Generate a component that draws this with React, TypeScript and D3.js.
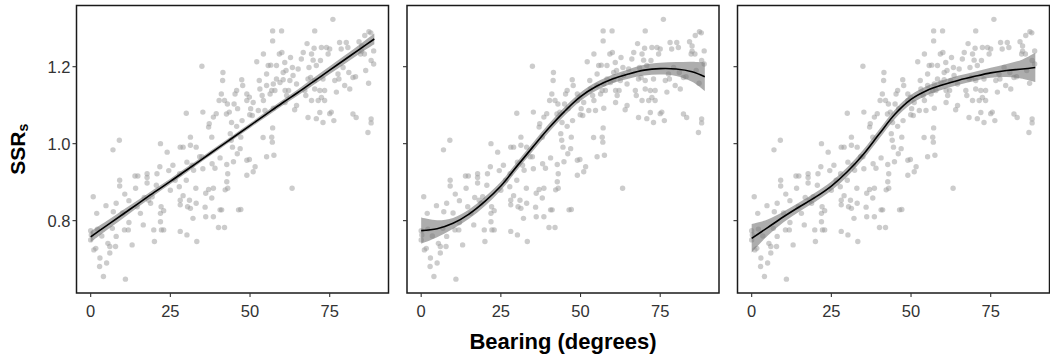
import React from 'react';
import * as d3 from 'd3';

// Observations (same data in every panel): bearing (degrees) and SSRs
const bearing = [
  0.0, 0.2, 0.0, 0.8, 1.0, 1.9, 2.1, 1.6, 2.9, 2.8, 4.0, 5.0, 4.8, 5.4, 6.0, 6.0, 7.0, 7.1, 6.8, 7.8,
  8.0, 8.0, 9.0, 9.1, 9.1, 10.9, 10.7, 10.6, 12.0, 12.0, 11.8, 13.0, 13.9, 14.8, 14.1, 14.6, 15.6, 16.5, 17.7, 17.7,
  17.7, 18.2, 18.8, 19.3, 19.8, 20.0, 20.8, 20.6, 21.9, 21.7, 22.1, 21.9, 21.9, 22.2, 22.9, 22.9, 24.0, 25.0, 25.8, 28.1,
  27.9, 27.8, 28.1, 28.1, 28.1, 29.0, 29.0, 30.0, 30.0, 30.2, 30.4, 31.0, 31.3, 31.3, 31.3, 31.8, 32.3, 32.1, 33.1, 33.0,
  33.3, 34.2, 34.9, 34.9, 35.2, 35.2, 36.1, 36.1, 37.0, 37.2, 38.0, 38.1, 38.5, 38.5, 39.4, 40.1, 40.3, 40.6, 41.1, 41.5,
  41.4, 42.0, 42.0, 42.7, 43.0, 43.0, 43.5, 42.9, 43.8, 44.1, 44.5, 44.8, 45.3, 45.8, 46.1, 46.4, 47.1, 46.0, 46.9, 47.1,
  47.4, 47.7, 49.0, 49.8, 49.0, 49.0, 49.0, 49.8, 50.2, 50.7, 51.0, 51.6, 52.1, 52.6, 52.9, 53.1, 54.2, 54.7, 55.2, 55.7,
  56.8, 57.0, 57.1, 57.3, 57.5, 57.1, 57.1, 57.8, 58.3, 59.2, 59.4, 59.9, 60.0, 60.4, 60.4, 60.9, 61.3, 61.5, 62.1, 62.5,
  62.7, 63.3, 63.5, 64.0, 63.2, 64.6, 65.1, 66.1, 66.7, 67.5, 67.2, 67.9, 68.2, 68.5, 69.3, 69.3, 69.8, 70.3, 70.8, 71.4,
  70.3, 72.1, 72.4, 72.9, 73.4, 73.4, 74.0, 74.5, 75.0, 75.0, 75.5, 76.0, 76.3, 76.6, 77.1, 77.6, 77.9, 78.1, 78.6, 79.2,
  79.7, 80.2, 80.7, 81.0, 82.3, 83.1, 84.2, 86.0, 87.3, 88.0, 88.8, 86.3, 87.2, 81.3, 82.3, 83.3, 88.0, 88.0, 87.0, 85.0,
  85.0, 84.7, 85.9, 88.8, 70.1, 54.2, 56.5, 70.8, 55.2, 56.3, 58.3, 69.0, 70.3, 71.9, 72.4, 51.0, 56.8, 61.0, 57.3, 61.0,
  64.6, 71.9, 68.2, 72.9, 41.0, 45.0, 42.6, 44.2, 49.9, 54.1, 55.2, 30.2, 33.1, 39.0, 40.6, 42.7, 37.0, 38.5, 42.2, 38.0,
  35.9, 87.9, 45.8, 53.8, 47.5, 26.5, 24.5, 16.8, 3.5, 10.0
];
const ssr = [
  0.774, 0.763, 0.750, 0.862, 0.724, 0.819, 0.778, 0.728, 0.703, 0.681, 0.655, 0.690, 0.839, 0.741, 0.733, 0.716, 0.984, 0.823, 0.780, 0.733,
  0.759, 0.845, 1.009, 0.905, 0.890, 0.648, 0.869, 0.776, 0.852, 0.795, 0.776, 0.737, 0.916, 0.916, 0.884, 0.836, 0.819, 0.789, 0.922, 0.912,
  0.898, 0.853, 0.845, 0.862, 0.776, 0.746, 0.922, 0.892, 1.000, 0.940, 0.836, 0.819, 0.797, 0.776, 0.826, 0.776, 0.978, 0.879, 0.944, 0.991,
  0.922, 0.888, 0.853, 0.841, 0.772, 0.991, 0.865, 1.079, 0.905, 0.763, 0.836, 0.853, 0.996, 1.017, 0.832, 0.944, 0.931, 0.806, 0.991, 0.884,
  0.746, 0.966, 0.966, 1.201, 1.082, 0.935, 0.810, 0.871, 1.043, 1.052, 1.017, 0.948, 0.810, 1.069, 1.078, 0.782, 1.112, 0.828, 0.828, 1.185,
  1.164, 0.782, 1.112, 0.901, 0.884, 0.922, 1.082, 1.103, 1.026, 1.009, 0.991, 0.953, 1.129, 1.138, 1.091, 0.828, 0.829, 0.974, 0.987, 1.017,
  1.166, 1.151, 0.957, 0.959, 0.918, 1.129, 1.112, 1.121, 1.091, 1.073, 0.927, 0.940, 1.213, 1.086, 1.164, 1.142, 1.112, 1.086, 1.181, 1.203,
  1.017, 1.004, 1.041, 1.155, 0.970, 1.293, 1.267, 1.138, 1.203, 1.233, 1.159, 1.293, 1.237, 1.166, 1.185, 1.211, 1.190, 1.125, 1.138, 1.164,
  1.224, 1.198, 1.177, 1.088, 0.884, 1.155, 1.194, 1.220, 1.237, 1.125, 1.138, 1.260, 1.168, 1.198, 1.112, 1.233, 1.217, 1.164, 1.065, 1.112,
  1.293, 1.216, 1.250, 1.168, 1.112, 1.138, 1.250, 1.233, 1.246, 1.078, 1.082, 1.323, 1.060, 1.164, 1.134, 1.181, 1.168, 1.263, 1.246, 1.198,
  1.151, 1.263, 1.250, 1.185, 1.172, 1.174, 1.265, 1.281, 1.291, 1.216, 1.207, 1.190, 1.157, 1.142, 1.077, 1.068, 1.064, 1.054, 1.029, 1.240,
  1.254, 1.233, 1.233, 1.241, 1.248, 1.233, 1.204, 1.203, 1.151, 1.129, 1.168, 1.172, 1.142, 1.138, 1.120, 1.107, 1.138, 1.138, 1.092, 1.107,
  1.099, 1.081, 1.068, 1.055, 1.129, 1.103, 1.077, 1.055, 1.075, 1.016, 0.966, 0.952, 0.845, 0.936, 0.963, 0.946, 0.881, 0.884, 0.880, 0.859,
  0.835, 1.288, 1.045, 1.125, 1.060, 0.905, 0.930, 0.860, 0.760, 0.820
];

const fitX = [0, 5, 10, 15, 20, 25, 30, 35, 40, 45, 50, 55, 60, 65, 70, 75, 80, 85, 89];
const linearFit = [0.758, 0.787, 0.816, 0.845, 0.874, 0.902, 0.931, 0.960, 0.989, 1.018, 1.047, 1.076, 1.105, 1.133, 1.162, 1.191, 1.220, 1.249, 1.272];
const linearSe = [0.014, 0.012, 0.011, 0.009, 0.008, 0.007, 0.007, 0.006, 0.006, 0.006, 0.006, 0.007, 0.007, 0.008, 0.009, 0.010, 0.011, 0.012, 0.014];
const polyFit = [0.774, 0.779, 0.793, 0.817, 0.850, 0.890, 0.941, 0.991, 1.040, 1.084, 1.122, 1.149, 1.168, 1.181, 1.191, 1.195, 1.194, 1.187, 1.174];
const polySe = [0.034, 0.022, 0.014, 0.012, 0.012, 0.011, 0.011, 0.011, 0.011, 0.011, 0.011, 0.011, 0.011, 0.012, 0.014, 0.015, 0.018, 0.026, 0.037];
const gamFit = [0.754, 0.782, 0.810, 0.836, 0.861, 0.890, 0.927, 0.972, 1.025, 1.077, 1.115, 1.138, 1.153, 1.165, 1.175, 1.184, 1.190, 1.194, 1.198];
const gamSe = [0.037, 0.021, 0.014, 0.012, 0.012, 0.012, 0.012, 0.012, 0.012, 0.012, 0.012, 0.012, 0.012, 0.012, 0.012, 0.013, 0.017, 0.025, 0.038];

const xTicks = [0, 25, 50, 75];
const yTicks = [0.8, 1.0, 1.2];
const yTickLabels = ['0.8', '1.0', '1.2'];
const xTitle = 'Bearing (degrees)';

const W = 1050;
const H = 358;
const panelLefts = [76.5, 407, 737.5];
const panelW = 312;
const top = 5.5;
const bottom = 293;
const font = '"Liberation Sans", Arial, Helvetica, sans-serif';

const fits = [
  { y: linearFit, se: linearSe },
  { y: polyFit, se: polySe },
  { y: gamFit, se: gamSe },
];

export default function App() {
  const y = d3.scaleLinear().domain([0.612, 1.359]).range([bottom, top]);
  const pts = bearing.map((b, i) => ({ x: b, y: ssr[i] }));

  return (
    <svg width={W} height={H} style={{ position: 'absolute', left: 0, top: 0, background: '#fff' }}>
      {fits.map((f, pi) => {
        const left = panelLefts[pi];
        const x = d3.scaleLinear().domain([-4.45, 93.45]).range([left, left + panelW]);
        const rows = fitX.map((fx, i) => ({ x: fx, y: f.y[i], se: f.se[i] }));
        const area = d3
          .area<any>()
          .x((d) => x(d.x))
          .y0((d) => y(d.y - d.se))
          .y1((d) => y(d.y + d.se))
          .curve(d3.curveCatmullRom);
        const line = d3
          .line<any>()
          .x((d) => x(d.x))
          .y((d) => y(d.y))
          .curve(d3.curveCatmullRom);
        return (
          <g key={pi}>
            {pts.map((p, i) => (
              <circle key={i} cx={x(p.x)} cy={y(p.y)} r={2.7} fill="#999" fillOpacity={0.5} />
            ))}
            <path d={area(rows) || ''} fill="#777" fillOpacity={0.6} />
            <path d={line(rows) || ''} fill="none" stroke="#000" strokeWidth={1.6} />
            <rect x={left} y={top} width={panelW} height={bottom - top} fill="none" stroke="#1a1a1a" strokeWidth={1.5} />
            {yTicks.map((t) => (
              <line key={t} x1={left - 4} x2={left} y1={y(t)} y2={y(t)} stroke="#333" strokeWidth={1.1} />
            ))}
            {xTicks.map((t) => (
              <g key={t}>
                <line x1={x(t)} x2={x(t)} y1={bottom} y2={bottom + 4} stroke="#333" strokeWidth={1.1} />
                <text x={x(t)} y={317} textAnchor="middle" fontFamily={font} fontSize={16.5} fill="#333">
                  {t}
                </text>
              </g>
            ))}
            {pi === 0 &&
              yTicks.map((t, i) => (
                <text key={t} x={left - 6} y={y(t)} dy="0.36em" textAnchor="end" fontFamily={font} fontSize={16.5} fill="#333">
                  {yTickLabels[i]}
                </text>
              ))}
          </g>
        );
      })}
      <text
        transform={`translate(25,${(top + bottom) / 2}) rotate(-90)`}
        textAnchor="middle"
        fontFamily={font}
        fontSize={21}
        fontWeight="bold"
        fill="#000"
      >
        SSR<tspan fontSize={14} dy={3}>s</tspan>
      </text>
      <text x={(panelLefts[0] + panelLefts[2] + panelW) / 2} y={349} textAnchor="middle" fontFamily={font} fontSize={22} fontWeight="bold" fill="#000">
        {xTitle}
      </text>
    </svg>
  );
}
